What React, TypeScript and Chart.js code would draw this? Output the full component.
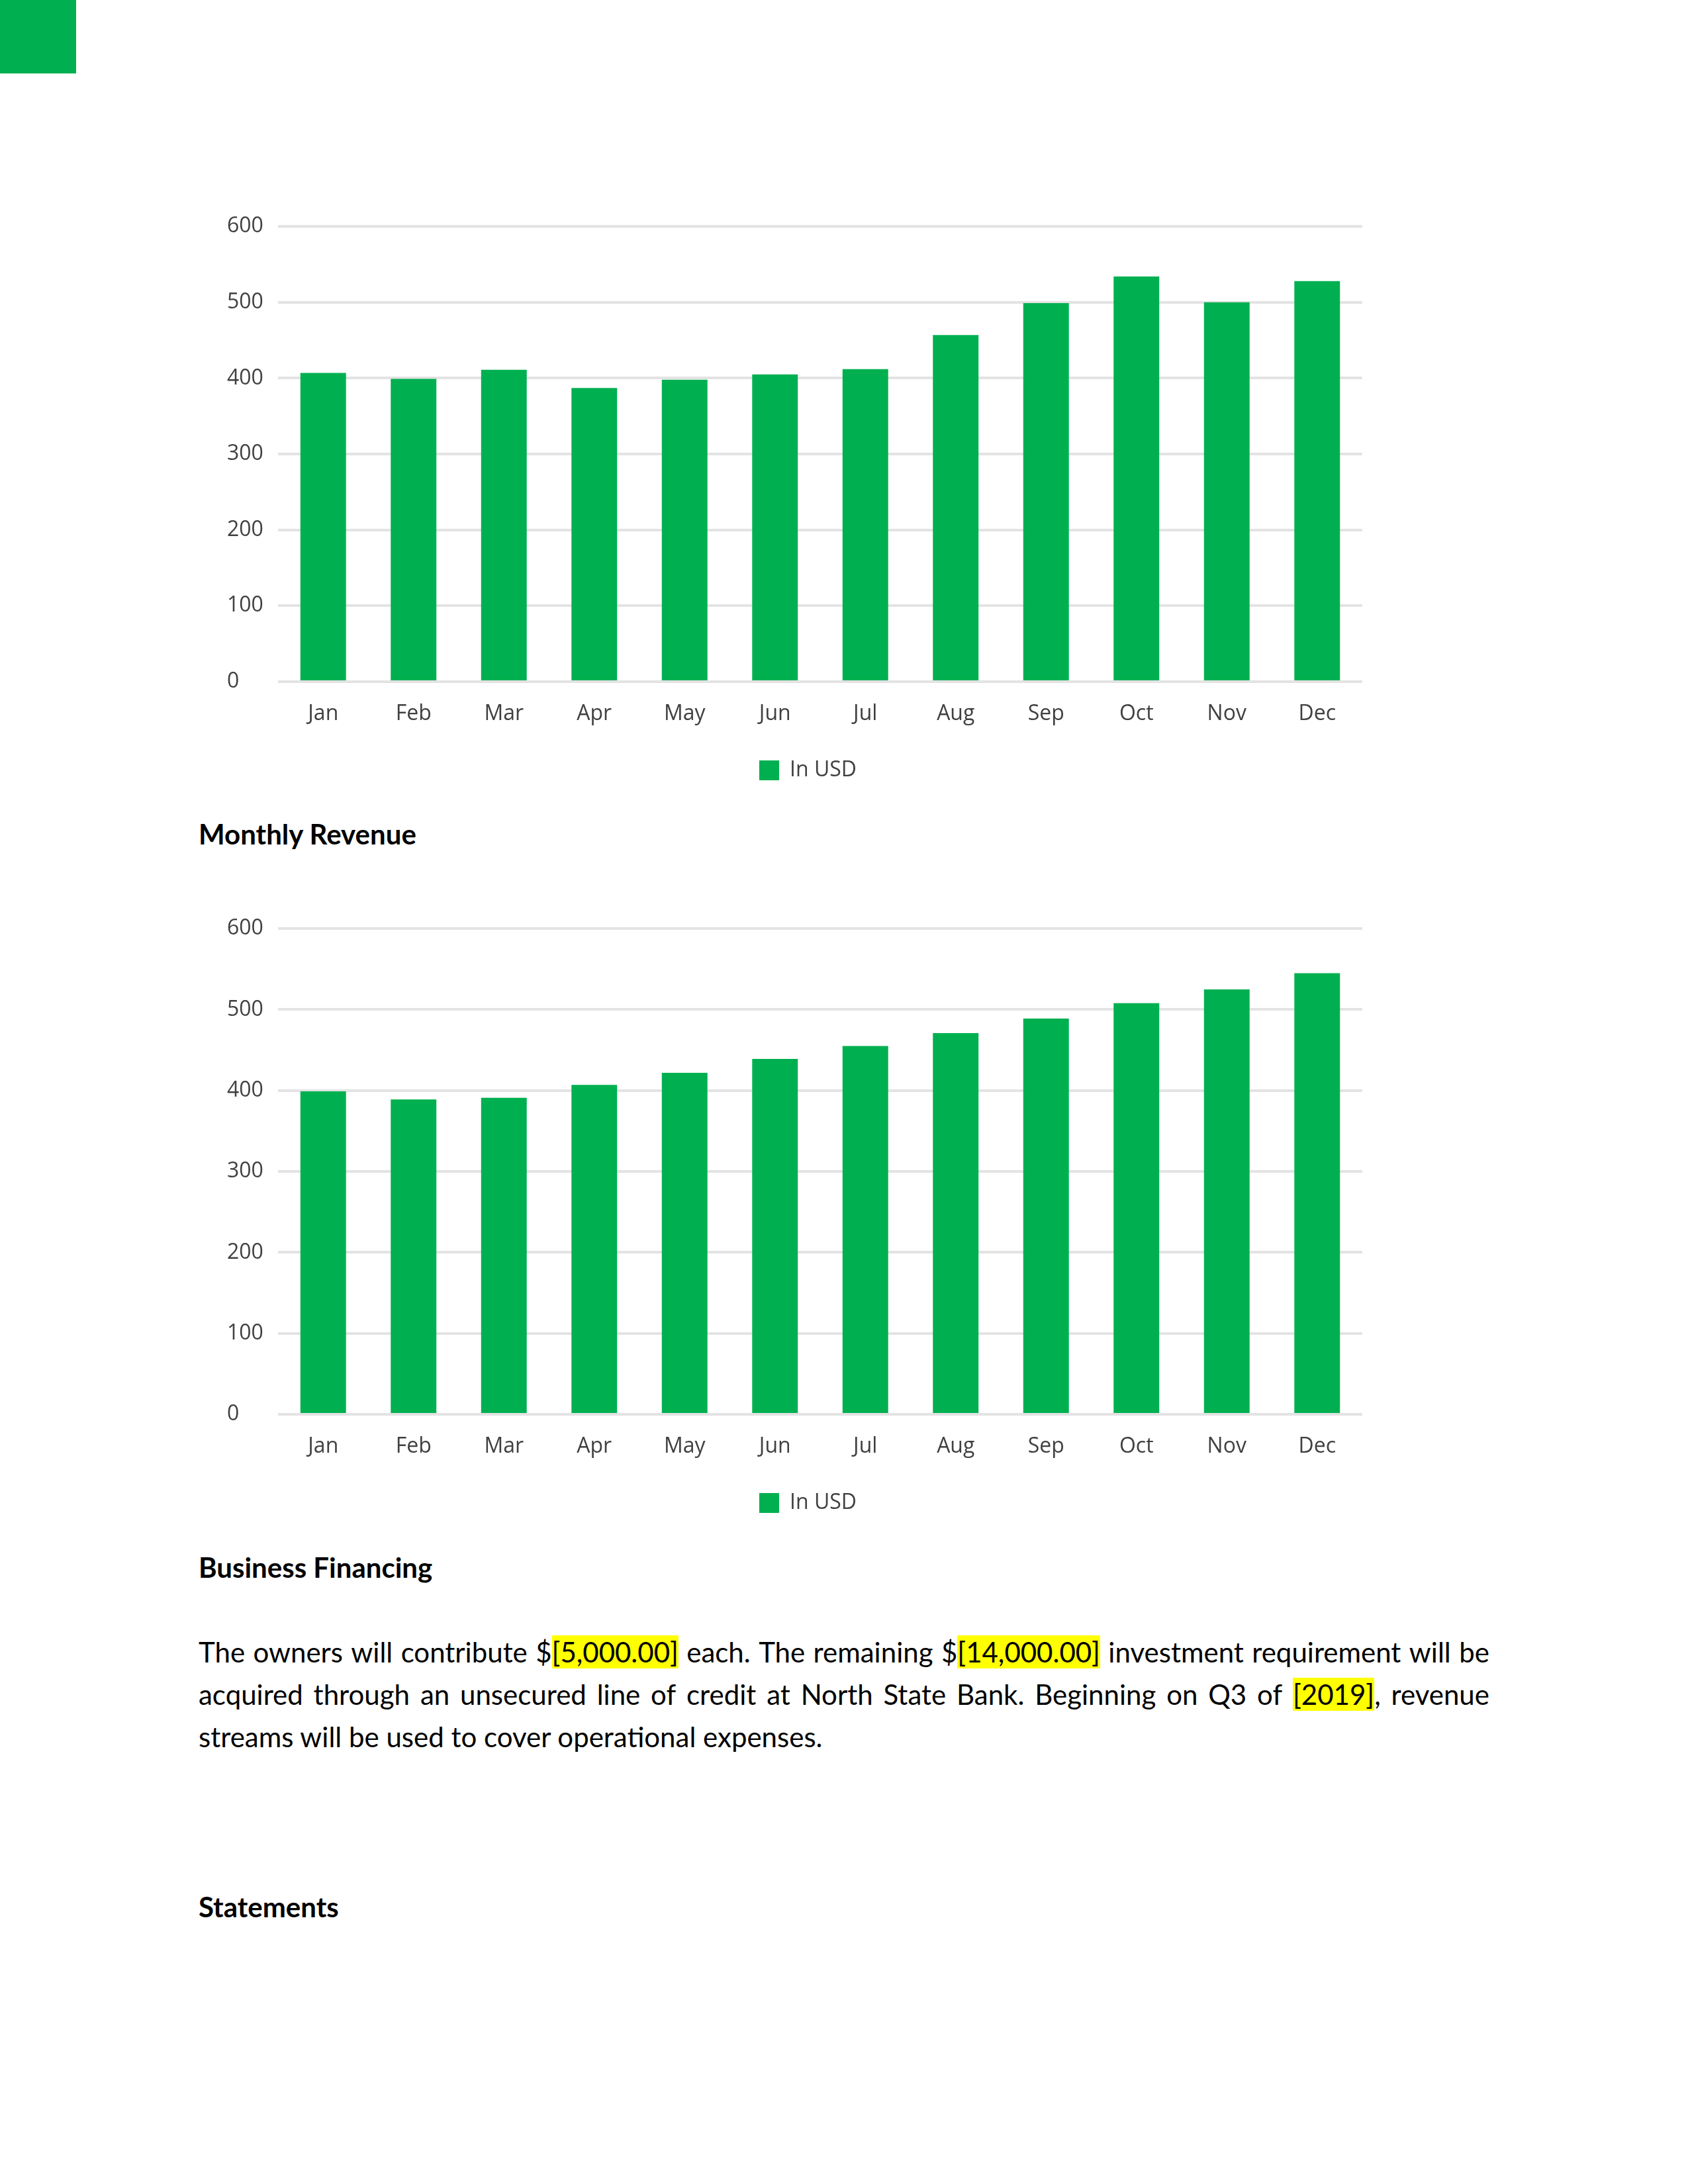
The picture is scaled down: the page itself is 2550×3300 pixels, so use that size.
import React, { useEffect, useRef } from "react";
import { Chart, registerables } from "chart.js";

Chart.register(...registerables);

const months = ["Jan", "Feb", "Mar", "Apr", "May", "Jun", "Jul", "Aug", "Sep", "Oct", "Nov", "Dec"];
const firstChartValues = [407, 399, 411, 387, 398, 405, 412, 457, 499, 534, 500, 528];
const revenueValues = [399, 389, 391, 407, 422, 439, 455, 471, 489, 508, 525, 545];
const legendLabel = "In USD";
const yMin = 0;
const yMax = 600;
const yStep = 100;

const headingMonthly = "Monthly Revenue";
const headingFinancing = "Business Financing";
const headingStatements = "Statements";
const paragraphLines = [
  "The owners will contribute $[5,000.00] each. The remaining $[14,000.00] investment requirement will be",
  "acquired through an unsecured line of credit at North State Bank. Beginning on Q3 of [2019], revenue",
  "streams will be used to cover operational expenses.",
];

const GREEN = "#00b050";
const TICK_COLOR = "#404040";
const GRID_COLOR = "#e3e3e3";
const CHART_FONT = "'Open Sans', sans-serif";
const TEXT_FONT = "Lato, 'Open Sans', sans-serif";

Chart.defaults.font.family = CHART_FONT;

// shifts the legend box horizontally so it sits where the reference legend sits
const legendShift = {
  id: "legendShift",
  afterLayout(chart: any, _args: any, opts: any) {
    const lg = chart.legend;
    if (lg && opts && opts.dx) {
      lg.left += opts.dx;
      lg.right += opts.dx;
    }
  },
};

type BarChartProps = {
  values: number[];
  top: number;
  height: number;
  legendPadding: number;
};

function BarChart({ values, top, height, legendPadding }: BarChartProps) {
  const ref = useRef<HTMLCanvasElement>(null);
  useEffect(() => {
    const canvas = ref.current;
    if (!canvas) return;
    const tickFont = { family: CHART_FONT, size: 32 };
    const chart = new Chart(canvas, {
      type: "bar",
      data: {
        labels: months,
        datasets: [
          {
            label: legendLabel,
            data: values,
            backgroundColor: GREEN,
            borderWidth: 0,
            categoryPercentage: 1,
            barPercentage: 0.505,
          },
        ],
      },
      plugins: [legendShift],
      options: {
        animation: false,
        responsive: false,
        maintainAspectRatio: false,
        devicePixelRatio: 1,
        layout: { padding: { left: 13, right: 22, top: 42, bottom: 0 } },
        plugins: {
          legend: {
            position: "bottom",
            labels: {
              boxWidth: 30,
              boxHeight: 30,
              padding: legendPadding,
              color: TICK_COLOR,
              font: tickFont,
            },
          },
          legendShift: { dx: 20 },
          tooltip: { enabled: false },
          title: { display: false },
        } as any,
        scales: {
          x: {
            grid: { display: false },
            border: { display: false },
            ticks: {
              color: TICK_COLOR,
              font: tickFont,
              padding: 22,
              maxRotation: 0,
              autoSkip: false,
            },
            afterFit: (scale: any) => {
              scale.height = 80;
            },
          },
          y: {
            min: yMin,
            max: yMax,
            ticks: {
              stepSize: yStep,
              color: TICK_COLOR,
              font: tickFont,
              padding: 23,
              crossAlign: "far",
            },
            grid: { color: GRID_COLOR, lineWidth: 4, drawTicks: false },
            border: { display: false },
            afterFit: (scale: any) => {
              scale.width = 77;
            },
          },
        },
      },
    });
    return () => chart.destroy();
  }, [values]);
  return (
    <canvas
      ref={ref}
      width={1750}
      height={height}
      style={{ position: "absolute", left: 330, top, width: 1750, height }}
    />
  );
}

function renderWord(word: string, key: number) {
  const parts = word.split(/(\[[^\]]*\])/).filter((p) => p.length > 0);
  return (
    <span key={key}>
      {parts.map((p, i) =>
        p.startsWith("[") ? (
          <span key={i} style={{ background: "#ffff00" }}>
            {p}
          </span>
        ) : (
          <span key={i}>{p}</span>
        )
      )}
    </span>
  );
}

const textBase: React.CSSProperties = {
  position: "absolute",
  left: 300,
  fontFamily: TEXT_FONT,
  fontSize: 42,
  lineHeight: "64px",
  color: "#000",
  whiteSpace: "nowrap",
};

export default function App() {
  const lineTops = [2464, 2528, 2592];
  return (
    <div
      style={{
        position: "absolute",
        left: 0,
        top: 0,
        width: 2550,
        height: 3300,
        background: "#fff",
        overflow: "hidden",
      }}
    >
      <div style={{ position: "absolute", left: 0, top: 0, width: 115, height: 111, background: GREEN }} />
      <BarChart values={firstChartValues} top={300} height={890} legendPadding={38} />
      <div style={{ ...textBase, top: 1228, fontWeight: 700 }}>{headingMonthly}</div>
      <BarChart values={revenueValues} top={1361} height={936} legendPadding={38} />
      <div style={{ ...textBase, top: 2336, fontWeight: 700 }}>{headingFinancing}</div>
      {paragraphLines.map((line, i) => {
        const last = i === paragraphLines.length - 1;
        const words = line.split(" ");
        return (
          <div
            key={i}
            style={{
              ...textBase,
              top: lineTops[i],
              width: last ? undefined : 1950,
              display: last ? "block" : "flex",
              justifyContent: "space-between",
            }}
          >
            {last ? line : words.map((w, j) => renderWord(w, j))}
          </div>
        );
      })}
      <div style={{ ...textBase, top: 2849, fontWeight: 700 }}>{headingStatements}</div>
    </div>
  );
}
